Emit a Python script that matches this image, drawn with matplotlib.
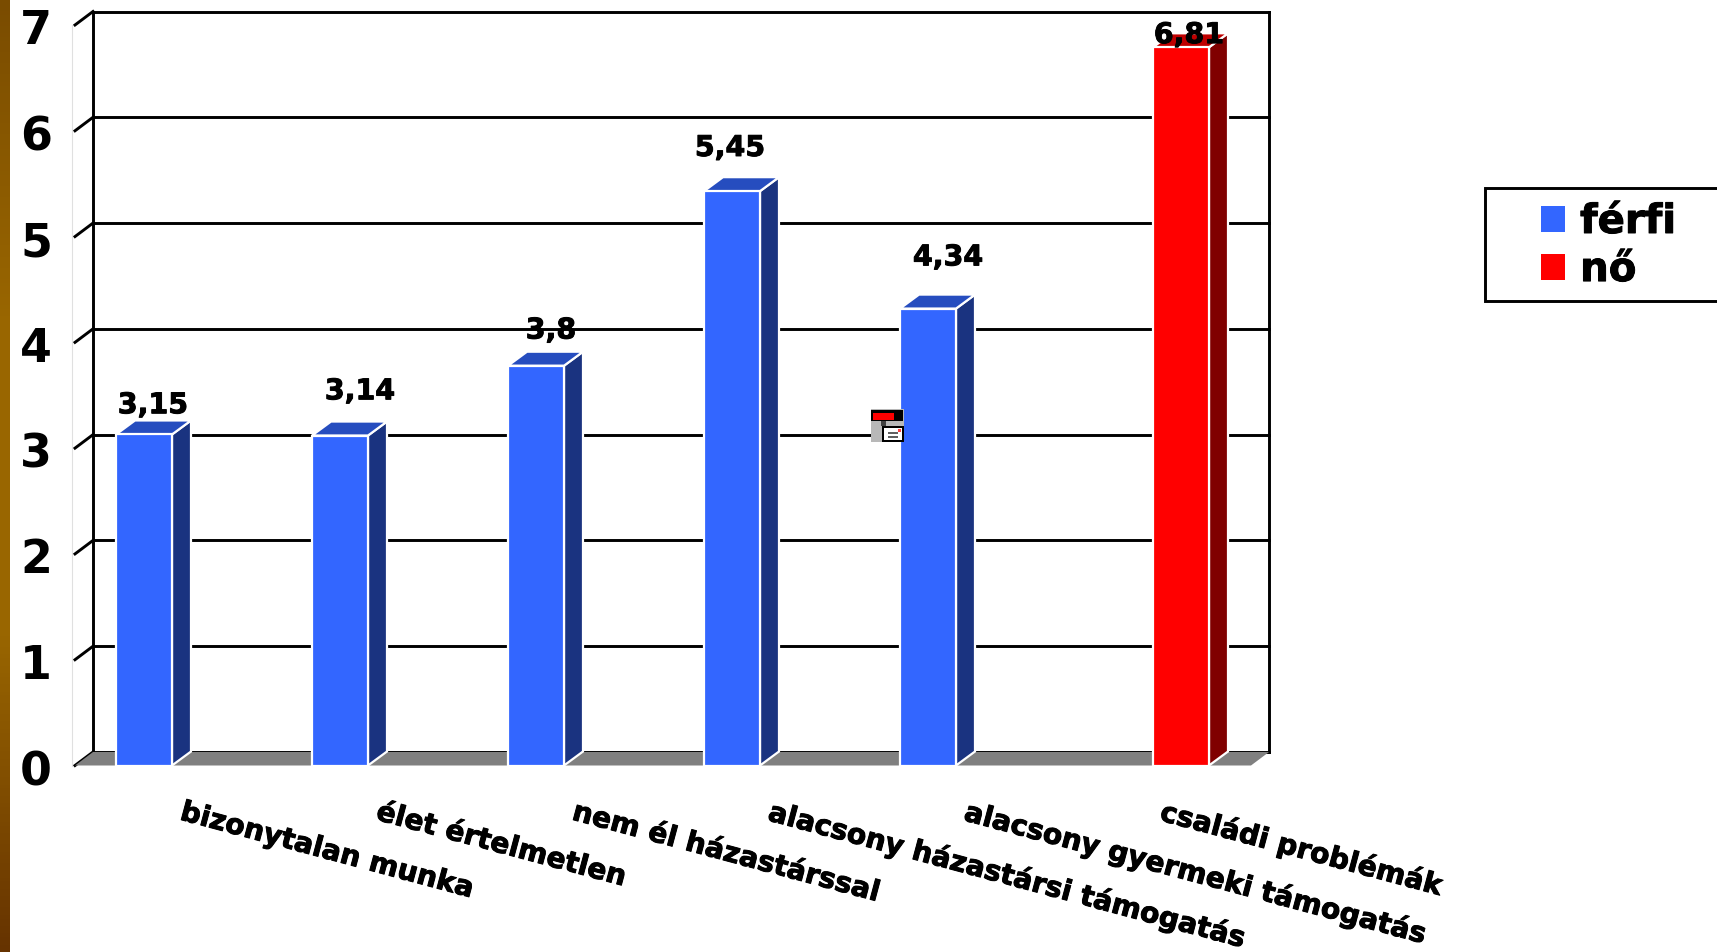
import numpy as np
import matplotlib
matplotlib.use("Agg")
from matplotlib import pyplot as plt
from matplotlib import patheffects as pe
from matplotlib.colors import LinearSegmentedColormap
from matplotlib.patches import Polygon, Patch, Rectangle

categories = ["bizonytalan munka", "élet értelmetlen", "nem él házastárssal",
              "alacsony házastársi támogatás", "alacsony gyermeki támogatás", "családi problémák"]
ferfi = [3.15, 3.14, 3.8, 5.45, 4.34, None]
no = [None, None, None, None, None, 6.81]
yticks = [0, 1, 2, 3, 4, 5, 6, 7]

W, H = 1717, 952
plt.rcParams['font.family'] = ['DejaVu Sans']
plt.rcParams['font.weight'] = 'bold'
heavy = [pe.withStroke(linewidth=0.7, foreground='black')]

fig = plt.figure(figsize=(W / 100, H / 100), dpi=100, facecolor='white')

# brown strip on the left edge
strip = fig.add_axes([0, 0, 9 / W, 1])
cmap = LinearSegmentedColormap.from_list('strip', ['#7a4c00', '#996600', '#996600', '#663300'])
strip.imshow(np.linspace(0, 1, 256).reshape(-1, 1), aspect='auto', cmap=cmap)
strip.axis('off')

# axes = front plane of the 3d box
left, right, y0, y7 = 75, 1251, 765.5, 25
ax = fig.add_axes([left / W, 1 - y0 / H, (right - left) / W, (y0 - y7) / H])
ax.set_xlim(0, 6)
ax.set_ylim(0, 7)
ax.axis('off')

px_x = 6 / (right - left)
px_y = 7 / (y0 - y7)
dx = 18 * px_x
dy = 13.5 * px_y
bar_dx = 19 * px_x
bar_dy = 14 * px_y
bar_w = 56 * px_x
blue_shift = 1 * px_x
top_inset = 2.2 * px_y  # white outline sits inside the bar height
black = dict(color='black', lw=2.1, solid_capstyle='projecting', clip_on=False)

# walls and gridlines
ax.plot([-3 * px_x, -3 * px_x], [0, 7], color='#e0e0e0', lw=0.8, clip_on=False, zorder=1)
for v in yticks:
    ax.plot([0, dx], [v, v + dy], zorder=2, **black)
    ax.plot([dx, 6 + dx], [v + dy, v + dy], zorder=2, **black)
ax.plot([dx, dx], [dy, 7 + dy], zorder=2, **black)
ax.plot([6 + dx, 6 + dx], [dy, 7 + dy], zorder=2, **black)
ax.add_patch(Polygon([(0, 0), (6, 0), (6 + dx, dy), (dx, dy)], fc='#808080', ec='none',
                     clip_on=False, zorder=3))


def bar3d(x0, value, front, top, side):
    x1 = x0 + bar_w
    v = value - top_inset
    edge = dict(ec='white', lw=1.6, clip_on=False, zorder=4, joinstyle='miter')
    ax.add_patch(Polygon([(x1, 0), (x1 + bar_dx, bar_dy), (x1 + bar_dx, v + bar_dy), (x1, v)], fc=side, **edge))
    ax.add_patch(Polygon([(x0, v), (x1, v), (x1 + bar_dx, v + bar_dy), (x0 + bar_dx, v + bar_dy)], fc=top, **edge))
    ax.add_patch(Polygon([(x0, 0), (x1, 0), (x1, v), (x0, v)], fc=front, **edge))


for i, v in enumerate(ferfi):
    if v is not None:
        bar3d(i + 0.5 - bar_w - blue_shift, v, '#3366ff', '#264dbf', '#1a3380')
for i, v in enumerate(no):
    if v is not None:
        bar3d(i + 0.5, v, '#ff0000', '#bf0000', '#800000')

# value labels, offsets in pixels from the top of the bar
values = [v if v is not None else w for v, w in zip(ferfi, no)]
label_dx = [8, 19, 14, -3, 19, 8]
label_dy = [27, 42, 33, 41, 49, 10]
for i, v in enumerate(values):
    xc = i + 0.5 - bar_w / 2 if ferfi[i] is not None else i + 0.5 + bar_w / 2
    ax.annotate(str(v).replace('.', ','), (xc, v),
                xytext=(label_dx[i], label_dy[i]), textcoords='offset pixels',
                ha='center', va='center', fontsize=20.5, color='black', zorder=6,
                annotation_clip=False, path_effects=heavy)

# y tick labels
for v in yticks:
    ax.annotate(str(v), (0, v), xytext=(-39, -7), textcoords='offset pixels',
                ha='center', va='center', fontsize=33, color='black', annotation_clip=False)

# slanted category labels
for i, name in enumerate(categories):
    ax.annotate(name, (i + 0.5, 0), xytext=(8, -46), textcoords='offset pixels',
                ha='left', va='center', rotation=-15, rotation_mode='anchor',
                fontsize=20.3, color='black', annotation_clip=False, path_effects=heavy)

# legend box runs off the right edge of the figure
fig.add_artist(Rectangle((1485 / W, 1 - 301 / H), 300 / W, 113 / H, fc='white', ec='black',
                         lw=2.1, transform=fig.transFigure))
handles = [Patch(fc='#3366ff', label='férfi'), Patch(fc='#ff0000', label='nő')]
leg = fig.legend(handles=handles, loc='upper left', bbox_to_anchor=(1541 / W, 1 - 202 / H),
                 borderaxespad=0, borderpad=0, fontsize=29, handlelength=0.6, handleheight=0.6,
                 handletextpad=0.37, labelspacing=0.2, frameon=False)
for t in leg.get_texts():
    t.set_path_effects(heavy)

# small floppy icon beside the fifth bar
icon = fig.add_axes([871 / W, 1 - 442 / H, 33 / W, 33 / H])
icon.set_xlim(0, 33)
icon.set_ylim(33, 0)
icon.axis('off')
icon.add_patch(Rectangle((0, 0), 33, 33, fc='#b8b8b8', ec='none'))
icon.add_patch(Rectangle((0, 1), 32, 11, fc='black', ec='none'))
icon.add_patch(Rectangle((2, 4), 21, 7, fc='#ff0000', ec='none'))
icon.add_patch(Rectangle((10, 12), 5, 5, fc='#404040', ec='none'))
icon.add_patch(Rectangle((11, 17), 22, 16, fc='black', ec='none'))
icon.add_patch(Rectangle((13, 19), 18, 12, fc='white', ec='none'))
icon.add_patch(Rectangle((17, 23), 10, 1.5, fc='#606060', ec='none'))
icon.add_patch(Rectangle((17, 27), 10, 1.5, fc='#606060', ec='none'))
icon.add_patch(Rectangle((27, 20), 2.5, 2.5, fc='#ff4040', ec='none'))

fig.savefig('out.png', dpi=100)
